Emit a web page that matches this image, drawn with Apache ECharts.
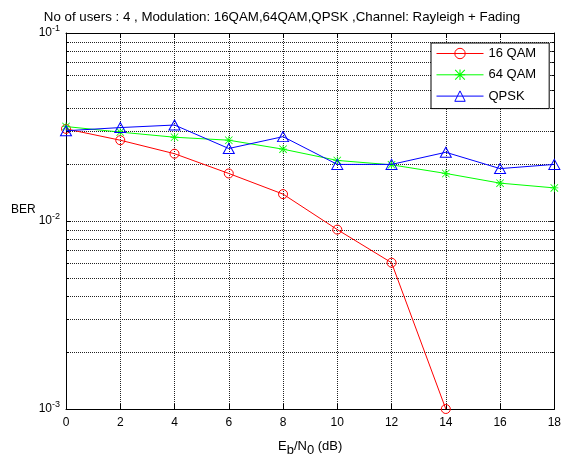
<!DOCTYPE html>
<html>
<head>
<meta charset="utf-8">
<script src="https://cdn.jsdelivr.net/npm/echarts@6/dist/echarts.min.js"></script>
<style>
html,body{margin:0;padding:0;background:#fff;}
#chart{width:564px;height:462px;}
</style>
</head>
<body>
<div id="chart"></div>
<script>
var ebno = [0, 2, 4, 6, 8, 10, 12, 14, 16, 18];
var ber16qam = [0.0309, 0.0269, 0.0228, 0.0179, 0.0139, 0.0090, 0.0060, 0.0010, null, null];
var ber64qam = [0.0318, 0.0297, 0.0279, 0.0269, 0.0241, 0.0210, 0.0199, 0.0179, 0.0159, 0.0150];
var berQpsk = [0.0302, 0.0314, 0.0324, 0.0243, 0.0281, 0.0200, 0.0200, 0.0232, 0.0190, 0.0200];
var seriesNames = ['16 QAM', '64 QAM', 'QPSK'];
var minorGridValues = [0.002,0.003,0.004,0.005,0.006,0.007,0.008,0.009,0.02,0.03,0.04,0.05,0.06,0.07,0.08,0.09];

var FONT = 'Liberation Sans, Arial, sans-serif';
function pairs(ys) {
  var out = [];
  for (var i = 0; i < ebno.length; i++) if (ys[i] != null) out.push([ebno[i], ys[i]]);
  return out;
}
var asterisk = 'path://M9 0L11 0L11 20L9 20Z M0 9L20 9L20 11L0 11Z M1.4 0L20 18.6L18.6 20L0 1.4Z M18.6 0L20 1.4L1.4 20L0 18.6Z';
var GRID_COLOR = '#222';
var GRID_DASH = [1, 1];

var chart = echarts.init(document.getElementById('chart'), null, {renderer: 'canvas'});
chart.setOption({
  animation: false,
  backgroundColor: '#fff',
  title: {
    text: 'No of users : 4 , Modulation: 16QAM,64QAM,QPSK ,Channel: Rayleigh + Fading',
    left: 'center', top: 6,
    textStyle: {fontFamily: FONT, fontSize: 13.3, fontWeight: 'normal', color: '#000'}
  },
  grid: {left: 66, right: 8, top: 33, bottom: 46, containLabel: false},
  legend: {
    orient: 'vertical', left: 431, top: 43,
    padding: [4, 13, 6, 5],
    itemWidth: 47, itemHeight: 13, itemGap: 8.3,
    backgroundColor: '#fff', borderColor: '#000', borderWidth: 1,
    lineStyle: {width: 1},
    itemStyle: {borderWidth: 1},
    textStyle: {fontFamily: FONT, fontSize: 13, color: '#000'},
    data: seriesNames
  },
  graphic: [{
    type: 'text', left: 11, top: 204,
    style: {text: 'BER', fontFamily: FONT, fontSize: 12, fill: '#000'}
  }],
  xAxis: [{
    type: 'value', min: 0, max: 18, interval: 2,
    name: '{n|E}{s|b}{n|/N}{s|0}{n| (dB)}',
    nameLocation: 'middle', nameGap: 26,
    nameTextStyle: {
      fontFamily: FONT, color: '#000',
      rich: {
        n: {fontFamily: FONT, fontSize: 13, color: '#000'},
        s: {fontFamily: FONT, fontSize: 13, color: '#000', padding: [9, 0, 0, 0]}
      }
    },
    axisLine: {show: true, onZero: false, lineStyle: {color: '#000', width: 1}},
    axisTick: {show: true, inside: true, length: 5, lineStyle: {color: '#000'}},
    axisLabel: {fontFamily: FONT, fontSize: 12, color: '#000', margin: 8},
    splitLine: {show: true, lineStyle: {color: GRID_COLOR, type: GRID_DASH, width: 1}}
  }, {
    type: 'value', min: 0, max: 18, interval: 2, position: 'top',
    axisLine: {show: true, onZero: false, lineStyle: {color: '#000', width: 1}},
    axisTick: {show: true, inside: true, length: 5, lineStyle: {color: '#000'}},
    axisLabel: {show: false}, splitLine: {show: false}
  }],
  yAxis: [{
    type: 'log', logBase: 10, min: 0.001, max: 0.1,
    axisLine: {show: true, onZero: false, lineStyle: {color: '#000', width: 1}},
    axisTick: {show: true, inside: true, length: 5, lineStyle: {color: '#000'}},
    axisLabel: {
      fontFamily: FONT, fontSize: 12, color: '#000', margin: 6,
      formatter: function (v) {
        var e = Math.round(Math.log(v) / Math.LN10);
        return '{b|10}{s|' + e + '}';
      },
      rich: {
        b: {fontFamily: FONT, fontSize: 12, color: '#000'},
        s: {fontFamily: FONT, fontSize: 9, color: '#000', padding: [0, 0, 8, 0]}
      }
    },
    splitLine: {show: true, lineStyle: {color: GRID_COLOR, type: GRID_DASH, width: 1}}
  }, {
    type: 'log', logBase: 10, min: 0.001, max: 0.1, position: 'right',
    axisLine: {show: true, onZero: false, lineStyle: {color: '#000', width: 1}},
    axisTick: {show: true, inside: true, length: 5, lineStyle: {color: '#000'}},
    axisLabel: {show: false}, splitLine: {show: false}
  }],
  series: [{
    type: 'custom', name: 'minorGrid', silent: true, z: 1,
    xAxisIndex: 0, yAxisIndex: 0,
    data: minorGridValues.map(function (v) { return [0, v]; }),
    encode: {x: 0, y: 1},
    renderItem: function (params, api) {
      var cs = params.coordSys;
      var y = Math.round(api.coord([0, api.value(1)])[1]) + 0.5;
      var ticks = [
        {type: 'line', shape: {x1: cs.x, y1: y, x2: cs.x + cs.width, y2: y},
         style: {stroke: GRID_COLOR, lineWidth: 1, lineDash: GRID_DASH}},
        {type: 'line', shape: {x1: cs.x, y1: y, x2: cs.x + 3, y2: y},
         style: {stroke: '#000', lineWidth: 1}},
        {type: 'line', shape: {x1: cs.x + cs.width - 3, y1: y, x2: cs.x + cs.width, y2: y},
         style: {stroke: '#000', lineWidth: 1}}
      ];
      return {type: 'group', children: ticks, silent: true};
    }
  }, {
    name: seriesNames[0], type: 'line', data: pairs(ber16qam),
    symbol: 'circle', symbolSize: 9,
    lineStyle: {color: '#ff0000', width: 1},
    itemStyle: {color: 'rgba(255,255,255,0)', borderColor: '#ff0000', borderWidth: 1},
    z: 3
  }, {
    name: seriesNames[1], type: 'line', data: pairs(ber64qam),
    symbol: asterisk, symbolSize: 8,
    lineStyle: {color: '#00ff00', width: 1},
    itemStyle: {color: '#00ff00', borderWidth: 0},
    z: 4
  }, {
    name: seriesNames[2], type: 'line', data: pairs(berQpsk),
    symbol: 'triangle', symbolSize: [11, 10],
    lineStyle: {color: '#0000ff', width: 1},
    itemStyle: {color: 'rgba(255,255,255,0)', borderColor: '#0000ff', borderWidth: 1},
    z: 5
  }]
});
</script>
</body>
</html>
